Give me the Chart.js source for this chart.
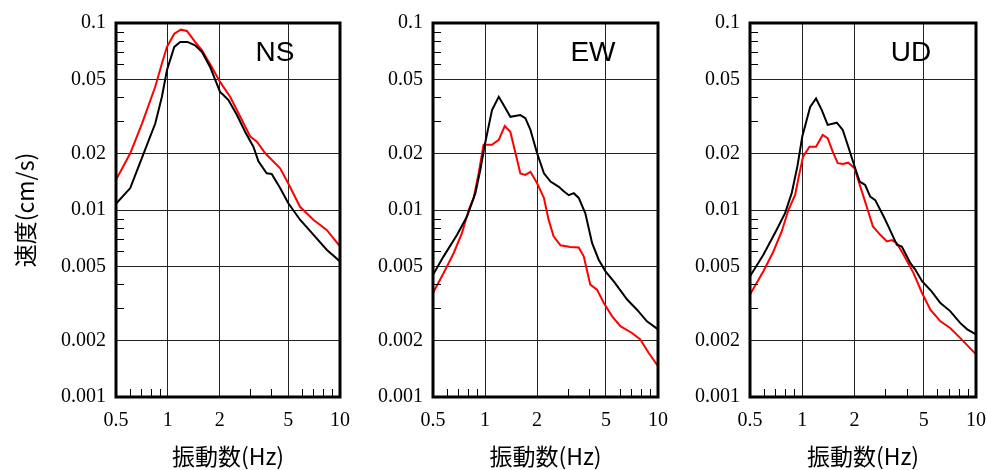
<!DOCTYPE html>
<html>
<head>
<meta charset="utf-8">
<script src="https://cdn.jsdelivr.net/npm/chart.js@4.4.1/dist/chart.umd.min.js"></script>
<style>
  body { margin: 0; background: #fff; }
  .painel { position: absolute; top: 0; }
</style>
</head>
<body>
<canvas id="graficoNS" class="painel" width="350" height="470" style="left: 0px"></canvas>
<canvas id="graficoEW" class="painel" width="330" height="470" style="left: 350px"></canvas>
<canvas id="graficoUD" class="painel" width="327" height="470" style="left: 660px"></canvas>
<script>
var xTicks = [0.5, 1, 2, 5, 10];
var yTicks = [0.001, 0.002, 0.005, 0.01, 0.02, 0.05, 0.1];
var xMinor = [0.6, 0.7, 0.8, 0.9, 3, 4, 6, 7, 8, 9];
var yMinor = [0.003, 0.004, 0.006, 0.007, 0.008, 0.009, 0.03, 0.04, 0.06, 0.07, 0.08, 0.09];

// NS
var nsFreqPreto = [0.5, 0.605, 0.724, 0.845, 0.924, 0.988, 1.09, 1.18, 1.3, 1.44, 1.58, 1.76, 2.01, 2.11, 2.25, 2.52, 2.81, 3.14, 3.36, 3.75, 4.01, 4.49, 5.0, 5.86, 7.0, 8.37, 10];
var nsPreto = [0.0108, 0.0131, 0.0201, 0.029, 0.0403, 0.0559, 0.0745, 0.0792, 0.0792, 0.076, 0.07, 0.0582, 0.0428, 0.0411, 0.0387, 0.0322, 0.0262, 0.0218, 0.0182, 0.0157, 0.0156, 0.0131, 0.0109, 0.00887, 0.00738, 0.00613, 0.00531];
var nsFreqVermelho = [0.5, 0.605, 0.708, 0.845, 0.924, 0.988, 1.09, 1.19, 1.29, 1.44, 1.58, 1.8, 2.01, 2.3, 2.63, 3.01, 3.29, 3.68, 4.49, 5.0, 5.86, 7.0, 8.37, 10];
var nsVermelho = [0.0145, 0.0201, 0.029, 0.0456, 0.0607, 0.0745, 0.0877, 0.0921, 0.0906, 0.0792, 0.0715, 0.0582, 0.0484, 0.0403, 0.0316, 0.0247, 0.0232, 0.0201, 0.0167, 0.0139, 0.0104, 0.00887, 0.00783, 0.00639];

// EW
var ewFreqPreto = [0.5, 0.576, 0.689, 0.786, 0.879, 0.939, 1.0, 1.097, 1.2, 1.28, 1.4, 1.6, 1.71, 1.83, 2.0, 2.19, 2.39, 2.67, 2.85, 3.05, 3.26, 3.48, 3.8, 4.16, 4.54, 4.97, 5.55, 6.63, 7.56, 8.63, 10];
var ewPreto = [0.00451, 0.00565, 0.00737, 0.00923, 0.0123, 0.0164, 0.0227, 0.0342, 0.0403, 0.0364, 0.0315, 0.0322, 0.031, 0.0268, 0.0201, 0.0157, 0.0142, 0.0133, 0.0126, 0.012, 0.0123, 0.0116, 0.0096, 0.00665, 0.00542, 0.0047, 0.00415, 0.00332, 0.00293, 0.00254, 0.0023];
var ewFreqVermelho = [0.5, 0.576, 0.659, 0.735, 0.804, 0.859, 0.918, 0.98, 1.097, 1.2, 1.3, 1.4, 1.5, 1.6, 1.71, 1.83, 2.0, 2.19, 2.33, 2.49, 2.73, 3.11, 3.48, 3.72, 4.06, 4.44, 4.86, 5.43, 6.06, 7.07, 7.9, 8.84, 10];
var ewVermelho = [0.0036, 0.0046, 0.00589, 0.00752, 0.01, 0.0116, 0.0157, 0.0223, 0.0223, 0.0237, 0.0281, 0.0262, 0.0201, 0.0157, 0.0154, 0.016, 0.0139, 0.0116, 0.00888, 0.00723, 0.00647, 0.00634, 0.0063, 0.00565, 0.00399, 0.00375, 0.00318, 0.0027, 0.00239, 0.0022, 0.00203, 0.00172, 0.00146];

// UD
var udFreqPreto = [0.5, 0.597, 0.712, 0.796, 0.869, 0.937, 1.0, 1.11, 1.2, 1.295, 1.4, 1.58, 1.71, 1.84, 2.0, 2.14, 2.3, 2.46, 2.63, 2.94, 3.13, 3.5, 3.74, 4.19, 4.47, 4.89, 5.55, 6.24, 7.1, 8.1, 8.9, 10];
var udPreto = [0.00442, 0.00577, 0.00784, 0.00962, 0.0123, 0.0171, 0.0247, 0.0356, 0.0395, 0.0342, 0.0285, 0.0293, 0.0268, 0.0218, 0.0171, 0.0142, 0.0136, 0.0118, 0.0113, 0.00923, 0.00817, 0.00652, 0.00638, 0.0052, 0.0048, 0.00416, 0.00367, 0.00318, 0.00288, 0.00249, 0.0023, 0.00216];
var udFreqVermelho = [0.5, 0.597, 0.682, 0.761, 0.832, 0.909, 0.963, 1.01, 1.1, 1.2, 1.31, 1.4, 1.51, 1.6, 1.71, 1.84, 2.0, 2.16, 2.35, 2.55, 2.81, 3.07, 3.28, 3.5, 3.83, 4.37, 4.89, 5.46, 6.24, 7.1, 8.1, 10];
var udVermelho = [0.00353, 0.0047, 0.006, 0.00768, 0.01, 0.01205, 0.0157, 0.0193, 0.0218, 0.0218, 0.0252, 0.0242, 0.0201, 0.0178, 0.0176, 0.0179, 0.0167, 0.0133, 0.0104, 0.00817, 0.00737, 0.00679, 0.0069, 0.00665, 0.00577, 0.0046, 0.0036, 0.00293, 0.00254, 0.00234, 0.00207, 0.00169];

function pontos(freq, valores) {
  var lista = [];
  for (var i = 0; i < freq.length; i++) {
    lista.push({ x: freq[i], y: valores[i] });
  }
  return lista;
}

// moldura grossa, tiques menores para dentro e o nome da componente
var moldura = {
  id: "moldura",
  afterDatasetsDraw: function (chart, args, opts) {
    var ctx = chart.ctx;
    var area = chart.chartArea;
    var sx = chart.scales.x;
    var sy = chart.scales.y;
    ctx.save();
    ctx.strokeStyle = "#000";
    ctx.lineWidth = 1;
    ctx.beginPath();
    for (var i = 0; i < xMinor.length; i++) {
      var px = Math.round(sx.getPixelForValue(xMinor[i])) + 0.5;
      ctx.moveTo(px, area.bottom);
      ctx.lineTo(px, area.bottom - 8);
    }
    for (var j = 0; j < yMinor.length; j++) {
      var py = Math.round(sy.getPixelForValue(yMinor[j])) + 0.5;
      ctx.moveTo(area.left, py);
      ctx.lineTo(area.left + 8, py);
    }
    ctx.stroke();

    ctx.lineWidth = 3;
    ctx.strokeRect(area.left, area.top, area.right - area.left, area.bottom - area.top);

    ctx.fillStyle = "#000";
    ctx.font = "28px 'Liberation Sans', Arial, sans-serif";
    ctx.textAlign = "center";
    ctx.textBaseline = "middle";
    ctx.fillText(opts.nome, area.right - 65, area.top + 30);
    ctx.restore();
  },
};

function plotarPainel(canvas, nome, freqPreto, preto, freqVermelho, vermelho, larguraY, direita, comTitulo) {
  new Chart(canvas, {
    type: "line",
    data: {
      datasets: [
        {
          data: pontos(freqPreto, preto),
          borderColor: "#000000",
          borderWidth: 2,
          pointRadius: 0,
          tension: 0,
        },
        {
          data: pontos(freqVermelho, vermelho),
          borderColor: "#ff0000",
          borderWidth: 2,
          pointRadius: 0,
          tension: 0,
        },
      ],
    },
    options: {
      responsive: false,
      animation: false,
      layout: {
        padding: { top: 23, right: direita, bottom: 0, left: 0 },
      },
      scales: {
        x: {
          type: "logarithmic",
          min: 0.5,
          max: 10,
          afterBuildTicks: function (scale) {
            scale.ticks = xTicks.map(function (v) { return { value: v }; });
          },
          afterFit: function (scale) {
            scale.height = 73;
            scale.paddingLeft = 0;
            scale.paddingRight = 0;
          },
          grid: { color: "#222", lineWidth: 1, drawTicks: false },
          border: { display: false },
          ticks: {
            autoSkip: false,
            maxRotation: 0,
            padding: 12,
            color: "#000",
            font: { family: "'Liberation Serif', 'Times New Roman', serif", size: 20 },
            callback: function (value) {
              return String(value);
            },
          },
          title: {
            display: true,
            text: "振動数(Hz)",
            color: "#000",
            padding: { top: 0, bottom: 0 },
            font: { family: "'Noto Sans CJK JP', sans-serif", size: 23 },
          },
        },
        y: {
          type: "logarithmic",
          min: 0.001,
          max: 0.1,
          afterBuildTicks: function (scale) {
            scale.ticks = yTicks.map(function (v) { return { value: v }; });
          },
          afterFit: function (scale) {
            scale.width = larguraY;
            scale.paddingTop = 0;
            scale.paddingBottom = 0;
          },
          grid: { color: "#222", lineWidth: 1, drawTicks: false },
          border: { display: false },
          ticks: {
            autoSkip: false,
            padding: 10,
            color: "#000",
            font: { family: "'Liberation Serif', 'Times New Roman', serif", size: 20 },
            callback: function (value) {
              return String(value);
            },
          },
          title: {
            display: comTitulo,
            text: "速度(cm/s)",
            color: "#000",
            padding: { top: 11, bottom: 0 },
            font: { family: "'Noto Sans CJK JP', sans-serif", size: 23 },
          },
        },
      },
      plugins: {
        legend: { display: false },
        tooltip: { enabled: false },
        moldura: { nome: nome },
      },
    },
    plugins: [moldura],
  });
}

plotarPainel(graficoNS, "NS", nsFreqPreto, nsPreto, nsFreqVermelho, nsVermelho, 116, 10, true);
plotarPainel(graficoEW, "EW", ewFreqPreto, ewPreto, ewFreqVermelho, ewVermelho, 83, 22, false);
plotarPainel(graficoUD, "UD", udFreqPreto, udPreto, udFreqVermelho, udVermelho, 90, 11, false);
</script>
</body>
</html>
